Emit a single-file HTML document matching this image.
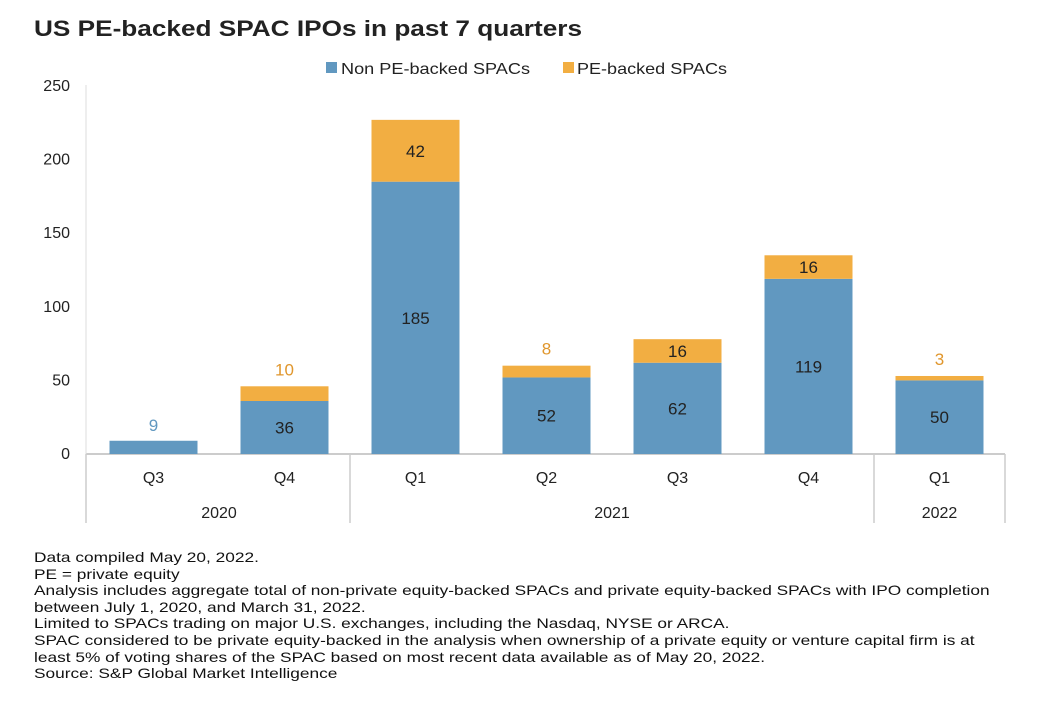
<!DOCTYPE html>
<html><head><meta charset="utf-8"><style>
body{margin:0;background:#fff;width:1042px;height:722px;overflow:hidden;font-family:"Liberation Sans",sans-serif;}
#title{position:absolute;left:34px;top:16px;font-size:22px;font-weight:bold;color:#222;transform:scaleX(1.19);transform-origin:0 0;white-space:nowrap;}
#notes{position:absolute;left:34px;top:549px;font-size:14px;line-height:16.6px;color:#111;transform:scaleX(1.235);transform-origin:0 0;white-space:nowrap;}
</style></head><body>
<div id="title">US PE-backed SPAC IPOs in past 7 quarters</div>
<svg id="chart" width="1042" height="545" style="position:absolute;left:0;top:0"></svg>
<div id="notes">Data compiled May 20, 2022.<br>PE = private equity<br>Analysis includes aggregate total of non-private equity-backed SPACs and private equity-backed SPACs with IPO completion<br>between July 1, 2020, and March 31, 2022.<br>Limited to SPACs trading on major U.S. exchanges, including the Nasdaq, NYSE or ARCA.<br>SPAC considered to be private equity-backed in the analysis when ownership of a private equity or venture capital firm is at<br>least 5% of voting shares of the SPAC based on most recent data available as of May 20, 2022.<br>Source: S&amp;P Global Market Intelligence</div>
<script>
const quarters=["Q3","Q4","Q1","Q2","Q3","Q4","Q1"];
const nonPE=[9,36,185,52,62,119,50];
const pe=[0,10,42,8,16,16,3];
const yTicks=[0,50,100,150,200,250];
const years=[["2020",0,2],["2021",2,6],["2022",6,7]];
const svg=document.getElementById('chart');const NS="http://www.w3.org/2000/svg";
const x0=88,cw=131,y0=454,k=368/250,bw=88;
const y=v=>y0-v*k, xc=i=>x0+cw*i+cw/2;
function mk(t,a,txt){const e=document.createElementNS(NS,t);for(const q in a)e.setAttribute(q,a[q]);if(txt!=null)e.textContent=txt;svg.appendChild(e);return e;}
const BL="#6198c0",OR="#f2ae42";
let e;
e=mk('line',{x1:86,x2:1005,y1:y0,y2:y0,stroke:"#ccc","stroke-width":2});


yTicks.forEach(t=>{e=mk('text',{x:70,y:y(t)+5,"text-anchor":"end","font-size":16,fill:"#222","font-family":"Liberation Sans"},t);

});
quarters.forEach((q,i)=>{
const cx=xc(i);
e=mk('rect',{x:cx-bw/2,y:y(nonPE[i]),width:bw,height:nonPE[i]*k,fill:BL});


if(pe[i]>0){e=mk('rect',{x:cx-bw/2,y:y(nonPE[i]+pe[i]),width:bw,height:pe[i]*k,fill:OR});

}
const small=nonPE[i]<20;
e=mk('text',{x:cx,y:small?y(nonPE[i])-10:y(nonPE[i]/2)+6,"text-anchor":"middle","font-size":17,fill:small?BL:"#222","font-family":"Liberation Sans"},nonPE[i]);


if(pe[i]>0){const out=pe[i]*k<22;
e=mk('text',{x:cx,y:out?y(nonPE[i]+pe[i])-11:y(nonPE[i]+pe[i]/2)+6,"text-anchor":"middle","font-size":17,fill:out?"#e0962c":"#222","font-family":"Liberation Sans"},pe[i]);

}
e=mk('text',{x:cx,y:483,"text-anchor":"middle","font-size":16,fill:"#222","font-family":"Liberation Sans"},q);


});
[0,2,6,7].forEach(b=>{const xx=b===0?86:x0+cw*b;
e=mk('line',{x1:xx,x2:xx,y1:y0,y2:523,stroke:"#ccc","stroke-width":1.5});

});
e=mk('line',{x1:86,x2:86,y1:85,y2:y0,stroke:"#ddd","stroke-width":1});


years.forEach(([yr,a,b])=>{e=mk('text',{x:x0+cw*(a+b)/2,y:518,"text-anchor":"middle","font-size":16,fill:"#222","font-family":"Liberation Sans"},yr);

});
e=mk('rect',{x:326,y:62,width:11,height:11,fill:BL});


e=mk('text',{x:341,y:74,"font-size":16,fill:"#222","font-family":"Liberation Sans",textLength:189,lengthAdjust:"spacingAndGlyphs"},"Non PE-backed SPACs");


e=mk('rect',{x:563,y:62,width:11,height:11,fill:OR});


e=mk('text',{x:577,y:74,"font-size":16,fill:"#222","font-family":"Liberation Sans",textLength:150,lengthAdjust:"spacingAndGlyphs"},"PE-backed SPACs");


</script>
</body></html>
